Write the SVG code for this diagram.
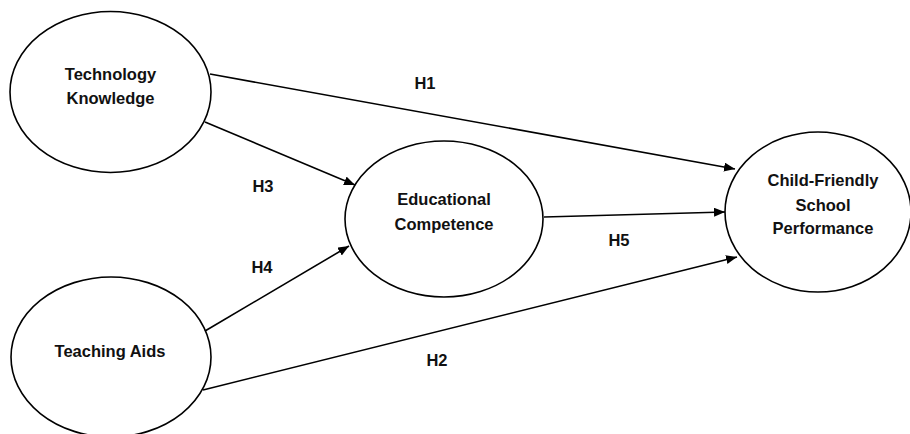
<svg xmlns="http://www.w3.org/2000/svg" width="910" height="434" viewBox="0 0 910 434">
<style>
.node{fill:#fff;stroke:#000;stroke-width:1.6}
.t{font-family:"Liberation Sans",Arial,sans-serif;font-weight:bold;font-size:16.5px;fill:#111;text-anchor:middle}
.c{stroke:#000;stroke-width:1.6;fill:none}
</style>
<defs>
<marker id="ah" markerUnits="userSpaceOnUse" markerWidth="12" markerHeight="10" refX="11" refY="4.5" orient="auto">
<path d="M0,0 L11,4.5 L0,9 z" fill="#000"/>
</marker>
</defs>
<rect width="910" height="434" fill="#fff"/>
<g id="tech-knowledge">
<ellipse class="node" cx="110.5" cy="92" rx="100.5" ry="80.5"/>
<text class="t" x="110.5" y="80">Technology</text>
<text class="t" x="110.5" y="104">Knowledge</text>
</g>
<g id="teaching-aids">
<ellipse class="node" cx="111" cy="357" rx="100" ry="80"/>
<text class="t" x="110" y="357">Teaching Aids</text>
</g>
<g id="educational-competence">
<ellipse class="node" cx="444" cy="219" rx="99" ry="78"/>
<text class="t" x="444" y="205">Educational</text>
<text class="t" x="444" y="230">Competence</text>
</g>
<g id="child-friendly">
<ellipse class="node" cx="818" cy="212" rx="93" ry="80"/>
<text class="t" x="823" y="186">Child-Friendly</text>
<text class="t" x="823" y="211">School</text>
<text class="t" x="823" y="234">Performance</text>
</g>
<g id="connectors">
<line class="c" x1="210" y1="74" x2="735" y2="169" marker-end="url(#ah)"/>
<line class="c" x1="205" y1="122" x2="355" y2="185" marker-end="url(#ah)"/>
<line class="c" x1="205" y1="331" x2="349" y2="246" marker-end="url(#ah)"/>
<line class="c" x1="544" y1="217" x2="725" y2="212" marker-end="url(#ah)"/>
<line class="c" x1="203" y1="390" x2="737" y2="257" marker-end="url(#ah)"/>
</g>
<g id="labels">
<text class="t" x="425" y="89">H1</text>
<text class="t" x="263" y="192">H3</text>
<text class="t" x="262" y="273">H4</text>
<text class="t" x="619" y="246">H5</text>
<text class="t" x="437" y="366">H2</text>
</g>
</svg>
